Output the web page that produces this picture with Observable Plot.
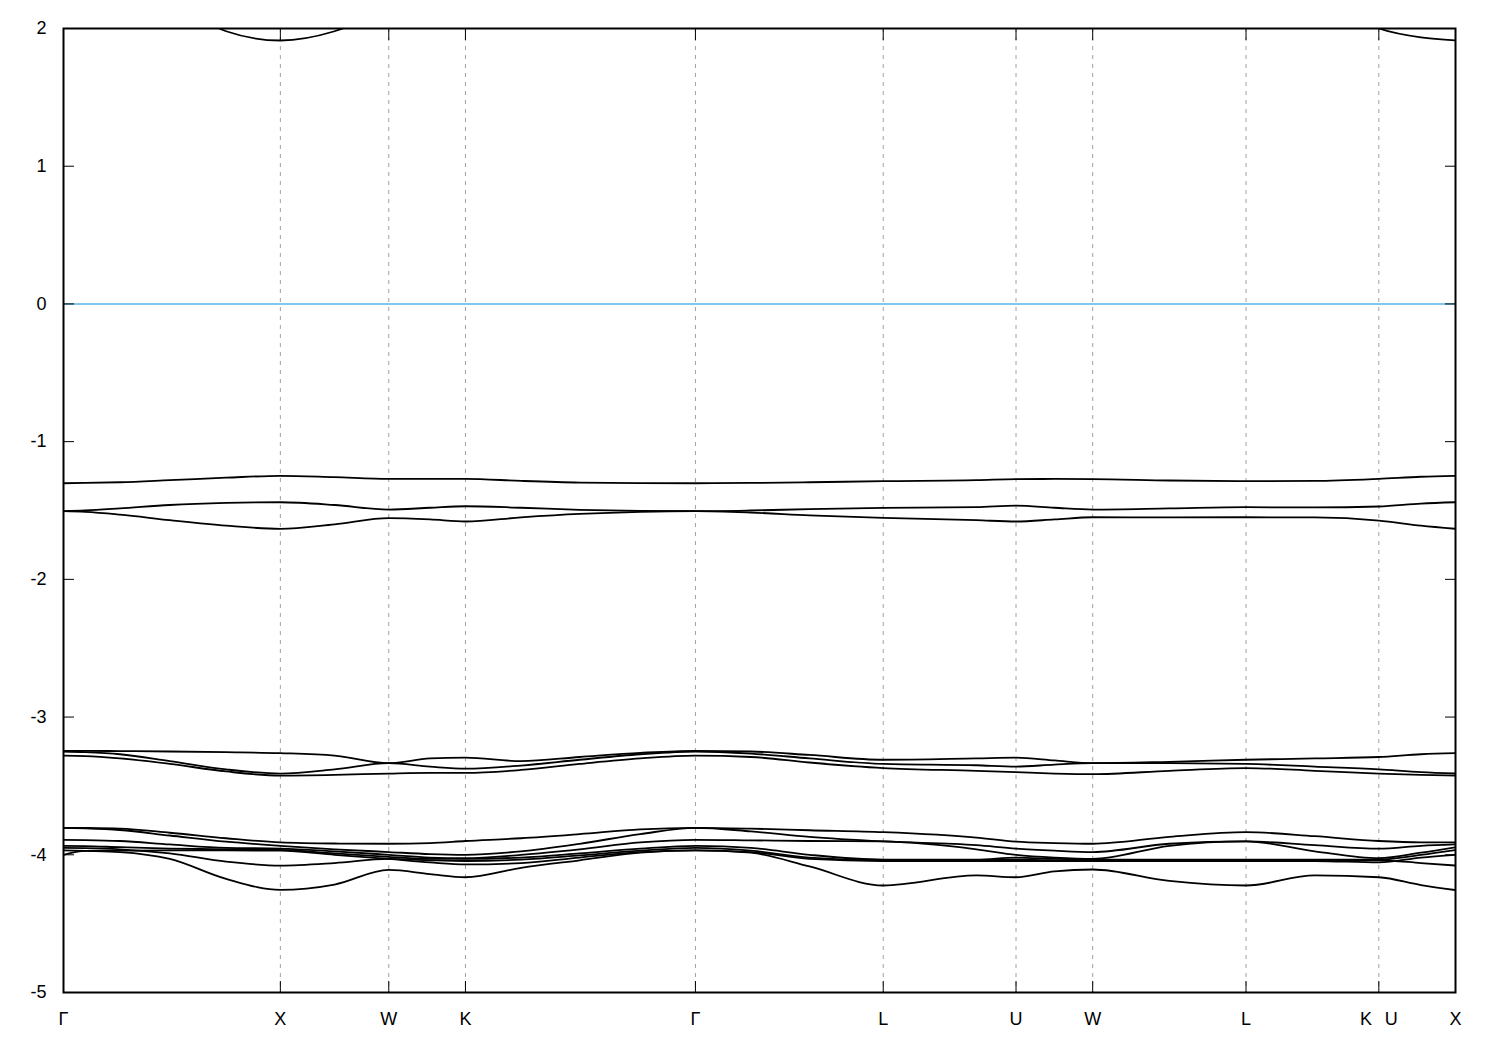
<!DOCTYPE html>
<html><head><meta charset="utf-8">
<script src="https://cdn.jsdelivr.net/npm/d3@7"></script>
<script src="https://cdn.jsdelivr.net/npm/@observablehq/plot@0.6"></script>
<style>body{margin:0;background:#fff} svg{display:block}</style>
</head><body><div id="chart"></div>
<script>
// k-path distance (2π/a units) of the sample points
const kpoints = [0, 0.10, 0.26, 0.49, 0.75, 1.0, 1.25, 1.5, 1.69, 1.8536, 2.11, 2.38, 2.66, 2.9142, 3.17, 3.44, 3.7802, 4.21, 4.3926, 4.57, 4.7462, 5.10, 5.4533, 5.77, 6.0657, 6.26, 6.4193];
// high-symmetry points
const symK = [0, 1.0, 1.5, 1.8536, 2.9142, 3.7802, 4.3926, 4.7462, 5.4533, 6.0657, 6.4193];
const symLabels = ["Γ", "X", "W", "K", "Γ", "L", "U", "W", "L", "K\u2002\u2009U", "X"];
const yTicks = [-5, -4, -3, -2, -1, 0, 1, 2];

// band energies (eV) at kpoints
const bandCond = [3.0, 2.9, 2.6, 2.25, 1.98, 1.913, 1.98, 2.15, 2.3, 2.4, 2.6, 2.8, 3.0, 3.1, 3.0, 2.9, 2.8, 2.7, 2.65, 2.6, 2.6, 2.55, 2.5, 2.25, 2.0, 1.935, 1.913];
const bandA = [-1.302,-1.30,-1.295,-1.28,-1.262,-1.248,-1.258,-1.27,-1.27,-1.27,-1.285,-1.297,-1.301,-1.302,-1.30,-1.295,-1.287,-1.28,-1.272,-1.271,-1.272,-1.282,-1.287,-1.285,-1.27,-1.255,-1.248];
const bandB = [-1.505,-1.50,-1.485,-1.46,-1.445,-1.44,-1.46,-1.493,-1.48,-1.469,-1.48,-1.495,-1.503,-1.505,-1.50,-1.49,-1.481,-1.475,-1.464,-1.48,-1.493,-1.485,-1.476,-1.478,-1.471,-1.45,-1.44];
const bandC = [-1.505,-1.51,-1.53,-1.57,-1.61,-1.633,-1.60,-1.556,-1.565,-1.58,-1.55,-1.525,-1.51,-1.505,-1.515,-1.535,-1.553,-1.57,-1.58,-1.565,-1.549,-1.55,-1.549,-1.55,-1.573,-1.61,-1.633];
const bandD = [-3.245,-3.245,-3.247,-3.25,-3.255,-3.262,-3.28,-3.335,-3.30,-3.295,-3.32,-3.29,-3.26,-3.245,-3.25,-3.275,-3.31,-3.30,-3.295,-3.315,-3.335,-3.325,-3.31,-3.30,-3.29,-3.27,-3.262];
const bandE = [-3.25,-3.255,-3.27,-3.32,-3.38,-3.41,-3.38,-3.335,-3.36,-3.375,-3.352,-3.31,-3.27,-3.25,-3.265,-3.30,-3.34,-3.35,-3.36,-3.345,-3.335,-3.335,-3.34,-3.36,-3.38,-3.40,-3.41];
const bandF = [-3.28,-3.283,-3.30,-3.34,-3.395,-3.425,-3.42,-3.41,-3.405,-3.405,-3.384,-3.34,-3.30,-3.28,-3.29,-3.33,-3.37,-3.39,-3.40,-3.41,-3.415,-3.39,-3.37,-3.39,-3.41,-3.42,-3.425];
const bandG1 = [-3.804,-3.805,-3.81,-3.84,-3.88,-3.91,-3.918,-3.92,-3.915,-3.90,-3.88,-3.85,-3.815,-3.804,-3.81,-3.822,-3.836,-3.875,-3.905,-3.915,-3.92,-3.87,-3.836,-3.865,-3.90,-3.91,-3.91];
const bandG2 = [-3.804,-3.808,-3.82,-3.86,-3.905,-3.935,-3.96,-3.98,-3.995,-4.0,-3.975,-3.92,-3.85,-3.804,-3.83,-3.87,-3.903,-3.93,-3.955,-3.97,-3.98,-3.92,-3.903,-3.93,-3.955,-3.935,-3.925];
const bandG3 = [-3.891,-3.893,-3.90,-3.925,-3.95,-3.955,-3.975,-4.0,-4.02,-4.025,-4.0,-3.96,-3.91,-3.891,-3.895,-3.90,-3.903,-3.96,-4.0,-4.02,-4.03,-3.935,-3.903,-3.975,-4.025,-3.985,-3.945];
const bandG4 = [-3.935,-3.937,-3.945,-3.955,-3.96,-3.965,-3.99,-4.015,-4.03,-4.03,-4.02,-3.99,-3.955,-3.935,-3.95,-4.0,-4.035,-4.035,-4.02,-4.03,-4.035,-4.035,-4.035,-4.035,-4.035,-4.0,-3.965];
const bandG5 = [-3.95,-3.952,-3.96,-3.99,-4.05,-4.078,-4.06,-4.03,-4.04,-4.045,-4.035,-4.005,-3.97,-3.95,-3.97,-4.02,-4.04,-4.04,-4.035,-4.04,-4.04,-4.04,-4.04,-4.04,-4.04,-4.06,-4.078];
const bandG6 = [-3.968,-3.972,-3.98,-4.03,-4.175,-4.255,-4.216,-4.11,-4.14,-4.163,-4.095,-4.04,-3.985,-3.968,-3.985,-4.085,-4.223,-4.15,-4.163,-4.12,-4.107,-4.19,-4.223,-4.15,-4.163,-4.22,-4.256];
const bandG7 = [-4.0,-3.972,-3.97,-3.968,-3.968,-3.97,-4.0,-4.03,-4.055,-4.07,-4.06,-4.02,-3.98,-3.968,-3.98,-4.03,-4.045,-4.045,-4.045,-4.045,-4.045,-4.045,-4.045,-4.045,-4.055,-4.02,-4.0];

const bands = {bandCond, bandA, bandB, bandC, bandD, bandE, bandF, bandG1, bandG2, bandG3, bandG4, bandG5, bandG6, bandG7};
const rows = Object.entries(bands).flatMap(([name, vals]) => vals.map((e, i) => ({band: name, k: kpoints[i], e})));
const labelOf = new Map(symK.map((k, i) => [k, symLabels[i]]));

const chart = Plot.plot({
  width: 1500,
  height: 1050,
  marginLeft: 63,
  marginRight: 45,
  marginTop: 28,
  marginBottom: 58,
  style: {fontFamily: "'Liberation Sans', Arial, sans-serif", fontSize: "18px", color: "#000", background: "#fff"},
  x: {domain: [0, symK[symK.length - 1]], label: null},
  y: {domain: [-5, 2], label: null},
  marks: [
    Plot.ruleX(symK.slice(1, -1), {stroke: "#a0a0a0", strokeWidth: 1, strokeDasharray: "4,5"}),
    Plot.ruleY([0], {stroke: "#56b4e9", strokeWidth: 1.5}),
    Plot.line(rows, {x: "k", y: "e", z: "band", stroke: "#000", strokeWidth: 1.8, curve: "monotone-x", clip: true}),
    Plot.axisY(yTicks, {anchor: "left", tickSize: 11, dx: 11, tickFormat: () => "", label: null, stroke: "#000"}),
    Plot.axisY(yTicks, {anchor: "right", tickSize: 11, dx: -11, tickFormat: () => "", label: null, stroke: "#000"}),
    Plot.axisY(yTicks, {anchor: "left", tickSize: 0, tickPadding: 17, tickFormat: d => String(d), label: null, fontSize: 18}),
    Plot.axisX(symK, {anchor: "bottom", tickSize: 11, dy: -11, tickFormat: () => "", label: null, stroke: "#000"}),
    Plot.axisX(symK, {anchor: "top", tickSize: 11, dy: 11, tickFormat: () => "", label: null, stroke: "#000"}),
    Plot.axisX(symK, {anchor: "bottom", tickSize: 0, tickPadding: 20, tickFormat: d => labelOf.get(d), label: null, fontSize: 18}),
    Plot.frame({stroke: "#000", strokeWidth: 2})
  ]
});
document.getElementById("chart").append(chart);
</script>
</body></html>
